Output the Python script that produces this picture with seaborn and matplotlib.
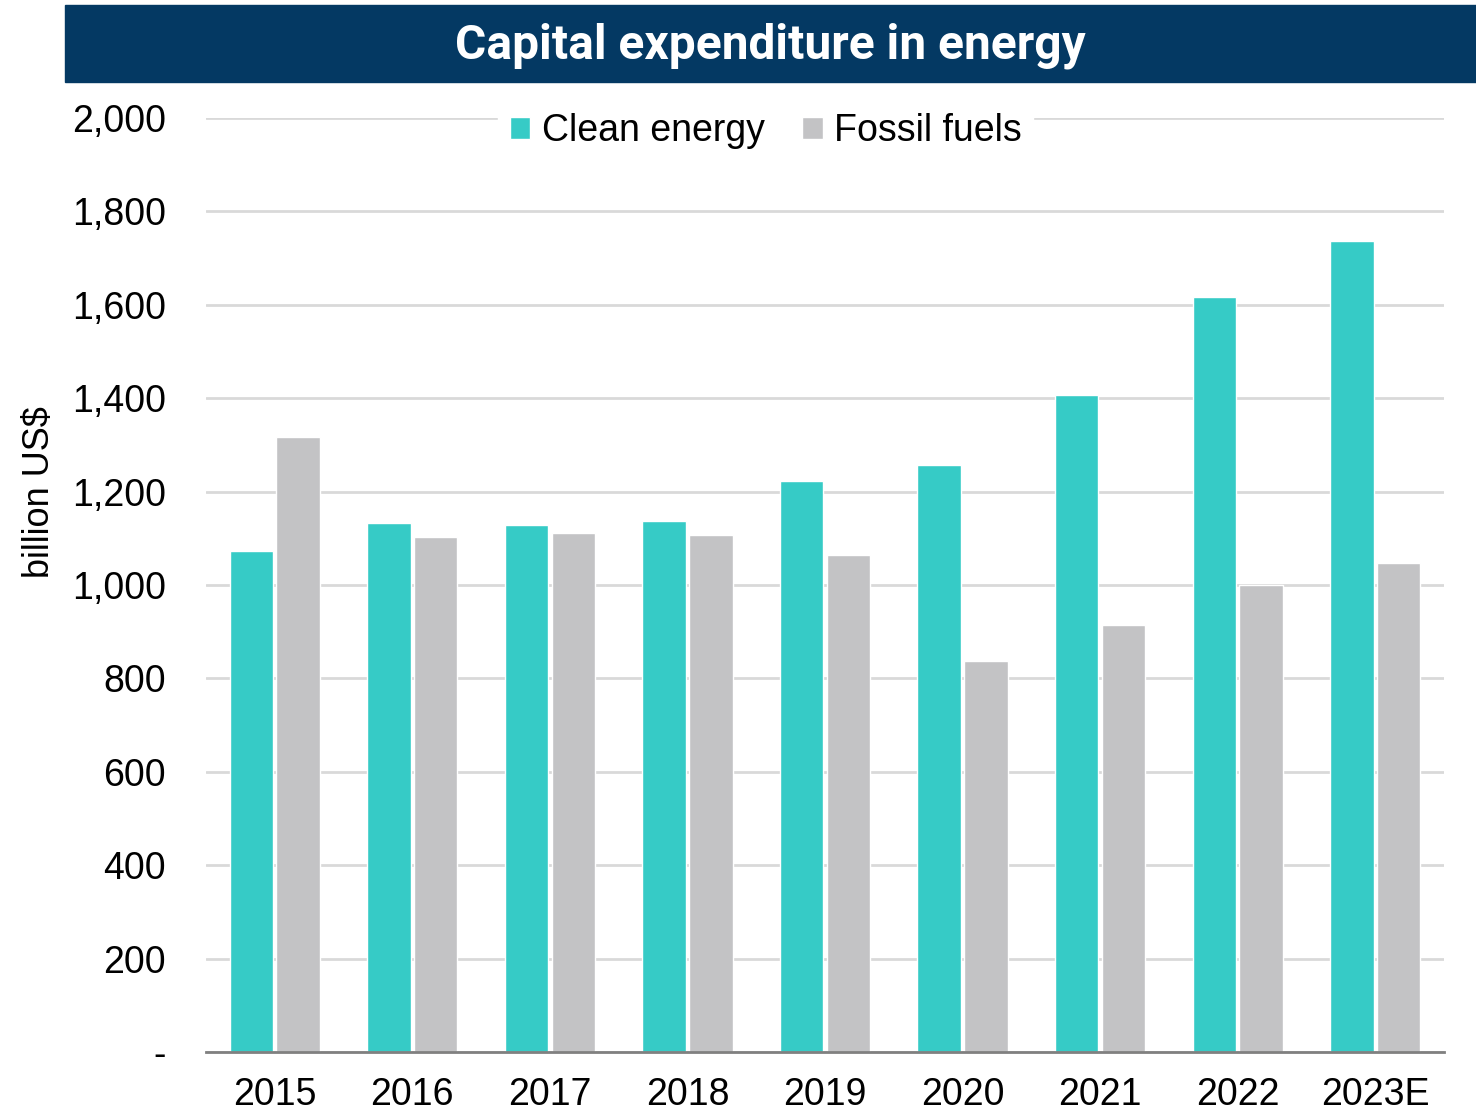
import pandas as pd
import matplotlib.pyplot as plt
import seaborn as sns
from matplotlib.patches import Rectangle
from matplotlib.ticker import FuncFormatter

years = ["2015", "2016", "2017", "2018", "2019", "2020", "2021", "2022", "2023E"]
clean_energy = [1073, 1133, 1128, 1137, 1223, 1257, 1407, 1617, 1737]
fossil_fuels = [1317, 1103, 1111, 1107, 1064, 837, 914, 1000, 1047]
series_names = ["Clean energy", "Fossil fuels"]
colors = ["#36CBC6", "#C3C3C5"]

df = pd.DataFrame({
    "year": years * 2,
    "value": clean_energy + fossil_fuels,
    "series": [series_names[0]] * len(years) + [series_names[1]] * len(years),
})

sns.set_style("white")
plt.rcParams['font.family'] = ['Liberation Sans', 'DejaVu Sans']
plt.rcParams['text.color'] = 'black'
plt.rcParams['axes.labelcolor'] = 'black'
plt.rcParams['xtick.color'] = 'black'
plt.rcParams['ytick.color'] = 'black'

fig = plt.figure(figsize=(14.76, 11.13), dpi=100)
ax = fig.add_axes([206 / 1476, 1 - 1052 / 1113, (1444 - 206) / 1476, 934 / 1113])

sns.barplot(data=df, x="year", y="value", hue="series", palette=colors,
            width=0.68, gap=0.07, ax=ax, saturation=1)

ax.set_ylim(0, 2000)
ax.set_yticks(range(0, 2001, 200))
ax.yaxis.set_major_formatter(FuncFormatter(lambda v, p: "-" if v == 0 else f"{int(v):,}"))
ax.grid(axis="y", color="#D9D9D9", linewidth=2)
ax.set_axisbelow(True)
for s in ["left", "right", "top"]:
    ax.spines[s].set_visible(False)
ax.spines["bottom"].set_color("#808080")
ax.spines["bottom"].set_linewidth(2)
ax.tick_params(axis="both", length=0, labelsize=27)
ax.tick_params(axis="x", pad=18)
ax.tick_params(axis="y", pad=29)
ax.set_xlabel("")
ax.set_ylabel("billion US$", fontsize=26)
ax.yaxis.set_label_coords(-0.12, 0.6)

leg = ax.legend(loc="center", bbox_to_anchor=(0.452, 0.986), ncol=2, fontsize=27,
                frameon=True, facecolor="white", edgecolor="white", framealpha=1,
                handlelength=0.55, handleheight=0.55, handletextpad=0.3,
                columnspacing=1.0, borderpad=0.3, fancybox=False)

# title banner
fig.patches.append(Rectangle((65 / 1476, 1 - 82 / 1113), 1 - 65 / 1476, 77 / 1113,
                             transform=fig.transFigure, color="#043963", zorder=0))
fig.text((65 + 1476) / 2 / 1476, 1 - 46 / 1113, "Capital expenditure in energy",
         ha="center", va="center", color="white", fontsize=34.5, fontweight="bold",
         family=["Roboto", "DejaVu Sans"])

plt.savefig("out.png", dpi=100)
